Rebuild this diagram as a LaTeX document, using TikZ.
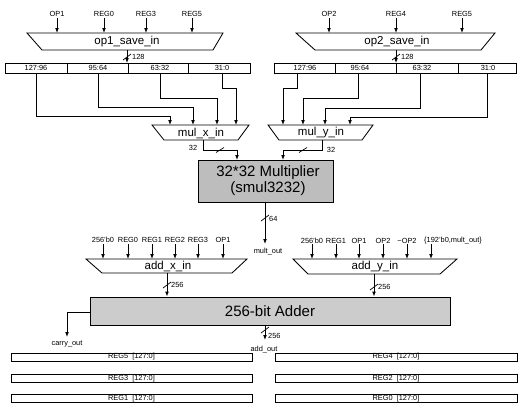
\documentclass[tikz,border=0pt]{standalone}
\usepackage{fontspec}
\setmainfont{Liberation Sans}
\usetikzlibrary{arrows.meta}
\begin{document}
\begin{tikzpicture}[x=1pt,y=-1pt,
  lbl/.style={font=\fontsize{7.4}{8}\selectfont, inner sep=0pt},
  mlbl/.style={font=\fontsize{11.5}{12}\selectfont, inner sep=0pt},
  big/.style={font=\fontsize{15}{17}\selectfont, align=center, inner sep=0pt},
  arr/.style={-{Latex[length=5pt,width=3.8pt]}, line width=0.85pt},
  wire/.style={line width=0.85pt},
  muxline/.style={line width=0.85pt},
  barbox/.style={draw, line width=0.85pt, inner sep=0pt},
  slash/.style={line width=0.7pt},
]
\useasboundingbox (0,0) rectangle (518,407);

% ---------- op1_save_in ----------
\draw[muxline] (27,33) -- (223,33) -- (213,50) -- (42,50) -- cycle;
\node[mlbl] (s1) at (127,42) {op1\_save\_in};
\coordinate (s1t) at (127,33);
\coordinate (s1b) at (127,50);
\foreach \n/\x/\t in {a/57/OP1, b/104/REG0, c/146/REG3, d/192/REG5} {
  \node[lbl] (i1\n) at (\x,14) {\t};
  \draw[arr] (i1\n.south) ++(0,1.5) -- (i1\n.south |- s1t);
}
% bar 1
\draw[barbox] (5,63) rectangle (250,73);
\foreach \x in {67,128,188} \draw[wire] (\x,63) -- (\x,73);
\coordinate (b1top) at (127,63);
\draw[arr] (s1b) -- (b1top);
\draw[slash] (123,60) -- (131,54);
\node[lbl, anchor=west] (w128a) at (132,57) {128};
\foreach \n/\x/\t in {a/36/127:96, b/98/95:64, c/160/63:32, d/222/31:0} {
  \node[lbl] (l1\n) at (\x,68) {\t};
  \coordinate (b1\n) at (\x,73);
}

% ---------- op2_save_in ----------
\draw[muxline] (296,33) -- (495,33) -- (481,50) -- (315,50) -- cycle;
\node[mlbl] (s2) at (397,42) {op2\_save\_in};
\coordinate (s2t) at (396,33);
\coordinate (s2b) at (396,50);
\foreach \n/\x/\t in {a/329/OP2, b/396/REG4, c/462/REG5} {
  \node[lbl] (i2\n) at (\x,14) {\t};
  \draw[arr] (i2\n.south) ++(0,1.5) -- (i2\n.south |- s2t);
}
% bar 2
\draw[barbox] (274,63) rectangle (516,73);
\foreach \x in {335,396,458} \draw[wire] (\x,63) -- (\x,73);
\coordinate (b2top) at (396,63);
\draw[arr] (s2b) -- (b2top);
\draw[slash] (392,60) -- (400,54);
\node[lbl, anchor=west] (w128b) at (401,57) {128};
\foreach \n/\x/\t in {a/305/127:96, b/360/95:64, c/422/63:32, d/488/31:0} {
  \node[lbl] (l2\n) at (\x,68) {\t};
}
\coordinate (b2a) at (297,73);
\coordinate (b2b) at (358,73);
\coordinate (b2c) at (420,73);
\coordinate (b2d) at (487,73);

% ---------- mul_x_in / mul_y_in ----------
\draw[muxline] (152,125) -- (249,125) -- (238,140) -- (164,140) -- cycle;
\node[mlbl] (mx) at (201,133) {mul\_x\_in};
\draw[muxline] (268,125) -- (373,125) -- (362,140) -- (279,140) -- cycle;
\node[mlbl] (my) at (321,133) {mul\_y\_in};
\coordinate (mx1a) at (170,125);
\coordinate (mx1b) at (193,125);
\coordinate (mx1c) at (217,125);
\coordinate (mx1d) at (236,125);
\coordinate (mx2a) at (283,125);
\coordinate (mx2b) at (303,125);
\coordinate (mx2c) at (325,125);
\coordinate (mx2d) at (350,125);

\draw[arr] (b1a) -- ++(0,43) -| (mx1a);
\draw[arr] (b1b) -- ++(0,34) -| (mx1b);
\draw[arr] (b1c) -- ++(0,25) -| (mx1c);
\draw[arr] (b1d) -- ++(0,15) -| (mx1d);
\draw[arr] (b2a) -- ++(0,15) -| (mx2a);
\draw[arr] (b2b) -- ++(0,25) -| (mx2b);
\draw[arr] (b2c) -- ++(0,35) -| (mx2c);
\draw[arr] (b2d) -- ++(0,44) -| (mx2d);

% ---------- Multiplier ----------
\node[draw, line width=0.85pt, fill=black!26, minimum width=135, minimum height=42, inner sep=0pt] (mult) at (265.5,181) {};
\node[big] (multtxt) at (268,181) {32*32 Multiplier\\[-1pt](smul3232)};
\coordinate (mxo) at (203,140);
\coordinate (myo) at (322,140);
\coordinate (m1in) at (237,160);
\coordinate (m2in) at (283,160);
\draw[arr] (mxo) -- ++(0,10) -| (m1in);
\draw[arr] (myo) -- ++(0,10) -| (m2in);
\draw[slash] (216,152.5) -- (224,147.5);
\draw[slash] (299,152.5) -- (307,147.5);
\node[lbl] (w32a) at (193,148) {32};
\node[lbl] (w32b) at (331,150) {32};

\coordinate (multout) at (265,244);
\draw[arr] (mult.south -| multout) -- (multout);
\draw[slash] (261,221) -- (269,215);
\node[lbl, anchor=west] (w64) at (269,219) {64};
\node[lbl] (multoutlbl) at (268,252) {mult\_out};

% ---------- add_x_in ----------
\draw[muxline] (86,259) -- (247,259) -- (232,273) -- (102,273) -- cycle;
\node[mlbl] (ax) at (168,266) {add\_x\_in};
\coordinate (axt) at (0,259);
\foreach \n/\x/\t in {a/103/256'b0, b/128/REG0, c/152/REG1, d/175/REG2, e/198/REG3, f/223/OP1} {
  \node[lbl] (ix\n) at (\x,240) {\t};
  \draw[arr] (ix\n.south) ++(0,1.5) -- (ix\n.south |- axt);
}

% ---------- add_y_in ----------
\draw[muxline] (293,259) -- (457,259) -- (440,274) -- (308,274) -- cycle;
\node[mlbl] (ay) at (375,267) {add\_y\_in};
\coordinate (ayt) at (0,259);
\foreach \n/\x/\t in {a/312/256'b0, b/336/REG1, c/359/OP1, d/383/OP2, e/407/\textasciitilde OP2} {
  \node[lbl] (iy\n) at (\x,241) {\t};
  \draw[arr] (iy\n.south |- 0,244) -- (iy\n.south |- ayt);
}
\node[lbl, anchor=west] (iyf) at (424,241) {\{192'b0,mult\_out\}};
\coordinate (iyfx) at (431,244);
\draw[arr] (iyfx) -- (iyfx |- ayt);

% ---------- Adder ----------
\node[draw, line width=0.85pt, fill=black!20, minimum width=360, minimum height=28, inner sep=0pt] (adder) at (270,311) {};
\node[big] (addtxt) at (270,311) {256-bit Adder};
\coordinate (axo) at (167,273);
\coordinate (ayo) at (374,274);
\draw[arr] (axo) -- (axo |- adder.north);
\draw[arr] (ayo) -- (ayo |- adder.north);
\draw[slash] (163,288) -- (171,282);
\node[lbl, anchor=west] (w256a) at (171,285) {256};
\draw[slash] (370,290) -- (378,284);
\node[lbl, anchor=west] (w256b) at (378,287) {256};

% carry_out
\coordinate (carry) at (67,337);
\draw[arr] (adder.west |- 0,312) -| (carry);
\node[lbl] (carrylbl) at (67,344) {carry\_out};
% add_out
\coordinate (addout) at (265,340);
\draw[arr] (adder.south -| addout) -- (addout);
\draw[slash] (261,333) -- (269,327);
\node[lbl, anchor=west] (w256c) at (268,336) {256};
\node[lbl] (addoutlbl) at (264,350) {add\_out};

% ---------- register bars ----------
\foreach \n/\y/\t in {a/357/REG5, b/378.5/REG3, c/398.5/REG1} {
  \node[barbox, minimum width=241, minimum height=8] (rl\n) at (131.5,\y) {};
  \node[lbl] (rlt\n) at (131.5,\y) {\t\hspace{4pt}[127:0]};
}
\foreach \n/\y/\t in {a/357/REG4, b/378.5/REG2, c/398.5/REG0} {
  \node[barbox, minimum width=242, minimum height=8] (rr\n) at (396,\y) {};
  \node[lbl] (rrt\n) at (396,\y) {\t\hspace{4pt}[127:0]};
}
\end{tikzpicture}
\end{document}
